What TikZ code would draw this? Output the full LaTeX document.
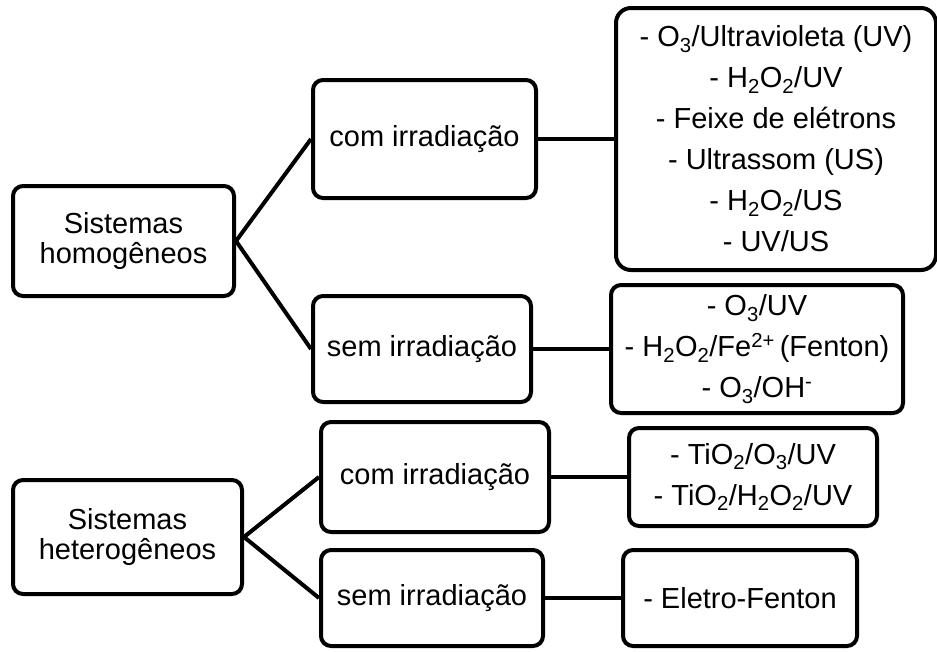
\documentclass[tikz,border=0pt]{standalone}
\usepackage{fontspec}
\setmainfont{Liberation Sans}
\usepackage{tikz}
\usetikzlibrary{positioning}

\begin{document}
\begin{tikzpicture}[x=1pt, y=-1pt, node distance=76pt, line width=4pt,
    box/.style={rectangle, draw, rounded corners=10pt, align=center, inner sep=0pt, font=\fontsize{29}{30}\selectfont},
    listbox/.style={box, font=\fontsize{29}{41}\selectfont}]
    \useasboundingbox (0,0) rectangle (937,651);

    % sistemas homogeneos
    \node [box, minimum width=221pt, minimum height=110pt] (homog) at (123.5,241) {Sistemas\\homogêneos};
    \node [box, minimum width=223pt, minimum height=118pt] (comhom) at (424.5,139) {com irradiação};
    \node [listbox, rounded corners=15pt, minimum width=320pt, minimum height=262pt, right=of comhom] (listcomhom) {- O\textsubscript{3}/Ultravioleta (UV)\\- H\textsubscript{2}O\textsubscript{2}/UV\\- Feixe de elétrons\\- Ultrassom (US)\\- H\textsubscript{2}O\textsubscript{2}/US\\- UV/US};
    \node [box, minimum width=218pt, minimum height=106pt] (semhom) at (422,349) {sem irradiação};
    \node [listbox, minimum width=292pt, minimum height=128pt, right=of semhom] (listsemhom) {- O\textsubscript{3}/UV\\- H\textsubscript{2}O\textsubscript{2}/Fe\textsuperscript{2+}\,(Fenton)\\- O\textsubscript{3}/OH\textsuperscript{-}};

    % sistemas heterogeneos
    \node [box, minimum width=229pt, minimum height=114pt] (heterog) at (127.5,537) {Sistemas\\heterogêneos};
    \node [box, minimum width=228pt, minimum height=110pt] (comhet) at (435,477) {com irradiação};
    \node [listbox, minimum width=248pt, minimum height=98pt, right=of comhet] (listcomhet) {- TiO\textsubscript{2}/O\textsubscript{3}/UV\\- TiO\textsubscript{2}/H\textsubscript{2}O\textsubscript{2}/UV};
    \node [box, minimum width=222pt, minimum height=96pt] (semhet) at (432,598) {sem irradiação};
    \node [listbox, minimum width=234pt, minimum height=96pt, right=of semhet] (listsemhet) {- Eletro-Fenton};

    \draw (homog.east) -- (comhom.west);
    \draw (homog.east) -- (semhom.west);
    \draw (comhom) -- (listcomhom);
    \draw (semhom) -- (listsemhom);
    \draw (heterog.east) -- (comhet.west);
    \draw (heterog.east) -- (semhet.west);
    \draw (comhet) -- (listcomhet);
    \draw (semhet) -- (listsemhet);
\end{tikzpicture}
\end{document}
